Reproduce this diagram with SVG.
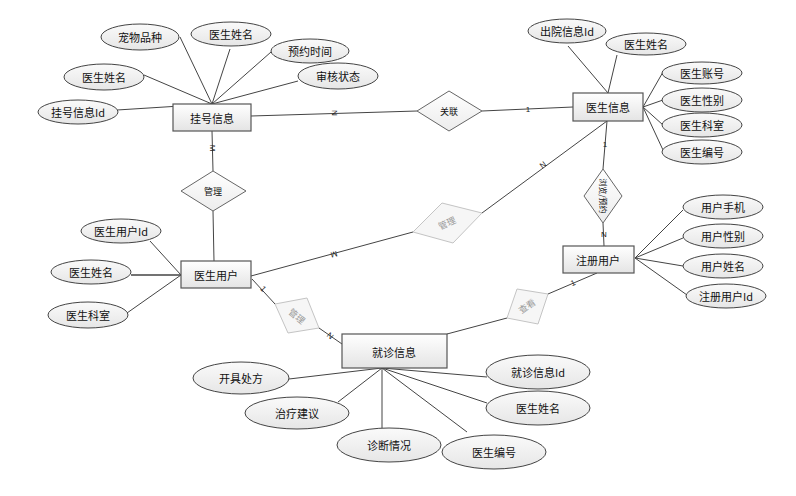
<svg xmlns="http://www.w3.org/2000/svg" width="796" height="496" viewBox="0 0 796 496">
<defs>
<linearGradient id="gRect" x1="0" y1="0" x2="0" y2="1"><stop offset="0" stop-color="#ffffff"/><stop offset="1" stop-color="#e4e4e4"/></linearGradient>
<linearGradient id="gEll" x1="0" y1="0" x2="0" y2="1"><stop offset="0" stop-color="#fafafa"/><stop offset="1" stop-color="#e6e6e6"/></linearGradient>
<linearGradient id="gDia" x1="0" y1="0" x2="0" y2="1"><stop offset="0" stop-color="#ffffff"/><stop offset="1" stop-color="#ececec"/></linearGradient>
<style>
.ent rect{fill:url(#gRect);stroke:#555;stroke-width:1.2}
.att ellipse{fill:url(#gEll);stroke:#444;stroke-width:1}
.rel polygon{fill:url(#gDia);stroke:#666;stroke-width:1}
.relf polygon{fill:#f6f6f6;stroke:#c4c4c4;stroke-width:1}
text{font-family:"Noto Sans CJK SC","Liberation Sans",sans-serif;font-size:11px;fill:#111;text-anchor:middle;dominant-baseline:central}
.rt{font-size:9px}
.rtv{font-size:8px}
.rtf{font-size:9px;fill:#999}
.card{font-size:8px;fill:#222;font-family:"Liberation Sans",sans-serif}
#connectors line{stroke:#444;stroke-width:1}
</style>
</defs>
<rect width="796" height="496" fill="#fff"/>
<g id="connectors">
<line x1="180" y1="37" x2="212" y2="104"/>
<line x1="230" y1="49" x2="212" y2="104"/>
<line x1="271" y1="52" x2="212" y2="104"/>
<line x1="144" y1="75" x2="212" y2="104"/>
<line x1="298" y1="81" x2="212" y2="104"/>
<line x1="117" y1="110" x2="212" y2="104"/>
<line x1="251" y1="116" x2="417" y2="111"/>
<line x1="482" y1="111" x2="573" y2="107"/>
<line x1="212" y1="131" x2="213" y2="171"/>
<line x1="213" y1="211" x2="214" y2="261"/>
<line x1="568" y1="46" x2="608" y2="93"/>
<line x1="617" y1="55" x2="608" y2="93"/>
<line x1="663" y1="72" x2="643" y2="107"/>
<line x1="663" y1="100" x2="643" y2="107"/>
<line x1="663" y1="125" x2="643" y2="107"/>
<line x1="663" y1="150" x2="643" y2="107"/>
<line x1="607" y1="121" x2="603" y2="169"/>
<line x1="603" y1="223" x2="604" y2="246"/>
<line x1="607" y1="121" x2="482" y2="213"/>
<line x1="413" y1="232" x2="251" y2="276"/>
<line x1="150" y1="241" x2="181" y2="275"/>
<line x1="131" y1="275" x2="181" y2="275" style="stroke-width:1.6"/>
<line x1="127" y1="313" x2="181" y2="275"/>
<line x1="252" y1="279" x2="275" y2="304"/>
<line x1="319" y1="328" x2="342" y2="344"/>
<line x1="447" y1="334" x2="507" y2="318"/>
<line x1="548" y1="294" x2="597" y2="273"/>
<line x1="635" y1="258" x2="683" y2="210"/>
<line x1="635" y1="258" x2="683" y2="238"/>
<line x1="635" y1="258" x2="683" y2="266"/>
<line x1="635" y1="258" x2="687" y2="295"/>
<line x1="382" y1="368" x2="289" y2="379"/>
<line x1="382" y1="368" x2="338" y2="402"/>
<line x1="382" y1="368" x2="382" y2="428"/>
<line x1="382" y1="368" x2="467" y2="432"/>
<line x1="382" y1="368" x2="487" y2="377"/>
<line x1="382" y1="368" x2="487" y2="403"/>
<text class="card" x="334" y="113" transform="rotate(90 334 113)">N</text>
<text class="card" x="528" y="109">1</text>
<text class="card" x="212" y="148" transform="rotate(90 212 148)">M</text>
<text class="card" x="605" y="144">1</text>
<text class="card" x="604" y="234">N</text>
<text class="card" x="543" y="165" transform="rotate(-37 543 165)">N</text>
<text class="card" x="334" y="254" transform="rotate(165 334 254)">M</text>
<text class="card" x="263" y="289" transform="rotate(47 263 289)">1</text>
<text class="card" x="330" y="336" transform="rotate(40 330 336)">N</text>
<text class="card" x="573" y="283" transform="rotate(-23 573 283)">1</text>
</g>
<g id="n-guahao" class="ent"><rect x="173" y="104" width="78" height="27"/><text x="212" y="118">挂号信息</text></g>
<g id="n-yishengxinxi" class="ent"><rect x="573" y="93" width="70" height="28"/><text x="608" y="107">医生信息</text></g>
<g id="n-yishengyonghu" class="ent"><rect x="181" y="261" width="70" height="27"/><text x="216" y="275">医生用户</text></g>
<g id="n-zhuceyonghu" class="ent"><rect x="563" y="246" width="71" height="27"/><text x="598" y="260">注册用户</text></g>
<g id="n-jiuzhen" class="ent"><rect x="342" y="334" width="105" height="34"/><text x="394" y="352">就诊信息</text></g>
<g id="r-guanlian" class="rel"><polygon points="417,111 449,91 482,111 449,131"/><text class="rt" x="449" y="111">关联</text></g>
<g id="r-guanli1" class="rel"><polygon points="181,191 213,171 246,191 213,211"/><text class="rt" x="213" y="191">管理</text></g>
<g id="r-liulan" class="rel"><polygon points="603,169 622,196 603,223 584,196"/><text class="rtv" x="603" y="196" transform="rotate(90 603 196)">浏览/预约</text></g>
<g id="r-guanli2" class="relf"><polygon points="413,232 442,203 482,213 453,243"/><text class="rtf" x="447" y="223" transform="rotate(-25 447 223)">管理</text></g>
<g id="r-guanli3" class="relf"><polygon points="275,304 307,298 319,328 288,333"/><text class="rtf" x="297" y="316" transform="rotate(40 297 316)">管理</text></g>
<g id="r-chakan" class="relf"><polygon points="507,318 517,289 548,294 538,324"/><text class="rtf" x="527" y="306" transform="rotate(-35 527 306)">查看</text></g>
<g id="a-chongwu" class="att"><ellipse cx="140" cy="37" rx="39" ry="13"/><text x="140" y="37">宠物品种</text></g>
<g id="a-gh-xingming1" class="att"><ellipse cx="231" cy="34" rx="40" ry="12"/><text x="231" y="34">医生姓名</text></g>
<g id="a-yuyue" class="att"><ellipse cx="310" cy="51" rx="39" ry="12"/><text x="310" y="51">预约时间</text></g>
<g id="a-gh-xingming2" class="att"><ellipse cx="104" cy="77" rx="40" ry="13"/><text x="104" y="77">医生姓名</text></g>
<g id="a-shenhe" class="att"><ellipse cx="338" cy="76" rx="40" ry="13"/><text x="338" y="76">审核状态</text></g>
<g id="a-guahaoid" class="att"><ellipse cx="78" cy="112" rx="40" ry="12"/><text x="78" y="112">挂号信息Id</text></g>
<g id="a-chuyuan" class="att"><ellipse cx="567" cy="31" rx="39" ry="12"/><text x="567" y="31">出院信息Id</text></g>
<g id="a-ys-xingming" class="att"><ellipse cx="646" cy="44" rx="40" ry="11"/><text x="646" y="44">医生姓名</text></g>
<g id="a-zhanghao" class="att"><ellipse cx="702" cy="73" rx="40" ry="11"/><text x="702" y="73">医生账号</text></g>
<g id="a-xingbie" class="att"><ellipse cx="702" cy="100" rx="40" ry="12"/><text x="702" y="100">医生性别</text></g>
<g id="a-ys-keshi" class="att"><ellipse cx="702" cy="125" rx="40" ry="12"/><text x="702" y="125">医生科室</text></g>
<g id="a-ys-bianhao" class="att"><ellipse cx="702" cy="152" rx="40" ry="12"/><text x="702" y="152">医生编号</text></g>
<g id="a-yhid" class="att"><ellipse cx="121" cy="231" rx="40" ry="12"/><text x="121" y="231">医生用户Id</text></g>
<g id="a-yh-xingming" class="att"><ellipse cx="91" cy="272" rx="40" ry="12"/><text x="91" y="272">医生姓名</text></g>
<g id="a-yh-keshi" class="att"><ellipse cx="88" cy="315" rx="40" ry="13"/><text x="88" y="315">医生科室</text></g>
<g id="a-shouji" class="att"><ellipse cx="723" cy="207" rx="40" ry="12"/><text x="723" y="207">用户手机</text></g>
<g id="a-yhxingbie" class="att"><ellipse cx="723" cy="236" rx="40" ry="12"/><text x="723" y="236">用户性别</text></g>
<g id="a-yhxingming" class="att"><ellipse cx="723" cy="266" rx="40" ry="12"/><text x="723" y="266">用户姓名</text></g>
<g id="a-zcid" class="att"><ellipse cx="726" cy="296" rx="40" ry="12"/><text x="726" y="296">注册用户Id</text></g>
<g id="a-chufang" class="att"><ellipse cx="241" cy="378" rx="48" ry="16"/><text x="241" y="378">开具处方</text></g>
<g id="a-jianyi" class="att"><ellipse cx="297" cy="413" rx="52" ry="16"/><text x="297" y="413">治疗建议</text></g>
<g id="a-zhenduan" class="att"><ellipse cx="389" cy="445" rx="52" ry="17"/><text x="389" y="445">诊断情况</text></g>
<g id="a-jz-bianhao" class="att"><ellipse cx="494" cy="452" rx="52" ry="17"/><text x="494" y="452">医生编号</text></g>
<g id="a-jzid" class="att"><ellipse cx="538" cy="372" rx="52" ry="17"/><text x="538" y="372">就诊信息Id</text></g>
<g id="a-jz-xingming" class="att"><ellipse cx="538" cy="408" rx="52" ry="17"/><text x="538" y="408">医生姓名</text></g>
</svg>
